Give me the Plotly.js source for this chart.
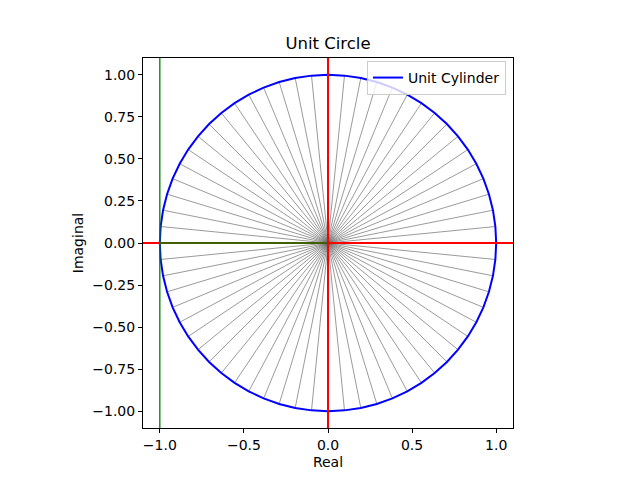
<!DOCTYPE html>
<html>
<head>
<meta charset="utf-8">
<script src="https://cdn.plot.ly/plotly-3.0.1.min.js"></script>
<style>
  html, body { margin: 0; padding: 0; background: #fff; }
  #plot { width: 640px; height: 480px; }
</style>
</head>
<body>
<div id="plot"></div>
<script>
// angles (degrees) of the points on the circle, one spoke per point
var angleDeg = [
  0, 5.625, 11.25, 16.875, 22.5, 28.125, 33.75, 39.375,
  45, 50.625, 56.25, 61.875, 67.5, 73.125, 78.75, 84.375,
  90, 95.625, 101.25, 106.875, 112.5, 118.125, 123.75, 129.375,
  135, 140.625, 146.25, 151.875, 157.5, 163.125, 168.75, 174.375,
  180, 185.625, 191.25, 196.875, 202.5, 208.125, 213.75, 219.375,
  225, 230.625, 236.25, 241.875, 247.5, 253.125, 258.75, 264.375,
  270, 275.625, 281.25, 286.875, 292.5, 298.125, 303.75, 309.375,
  315, 320.625, 326.25, 331.875, 337.5, 343.125, 348.75, 354.375, 360
]
var radius = 1

// reference lines
var redVLineX = [0]
var redHLineY = [0]
var greenVLineX = [-1]
var greenSegX = [-1, 0]
var greenSegY = [0, 0]

// ticks
var xTickVals = [-1, -0.5, 0, 0.5, 1]
var xTickText = ['\u22121.0', '\u22120.5', '0.0', '0.5', '1.0']
var yTickVals = [-1, -0.75, -0.5, -0.25, 0, 0.25, 0.5, 0.75, 1]
var yTickText = ['\u22121.00', '\u22120.75', '\u22120.50', '\u22120.25', '0.00', '0.25', '0.50', '0.75', '1.00']

var circleX = []
var circleY = []
for (var i = 0; i < angleDeg.length; i++) {
  var a = angleDeg[i] * Math.PI / 180
  circleX.push(radius * Math.cos(a))
  circleY.push(radius * Math.sin(a))
}

// spokes from the origin to each point, joined with gaps
var spokeX = []
var spokeY = []
for (var k = 0; k < circleX.length - 1; k++) {
  spokeX.push(0, circleX[k], null)
  spokeY.push(0, circleY[k], null)
}

var font = 'DejaVu Sans, sans-serif'

var spokes = {
  x: spokeX, y: spokeY, mode: 'lines', type: 'scatter',
  line: {color: '#6e6e6e', width: 0.7},
  showlegend: false, hoverinfo: 'skip'
}

var circle = {
  x: circleX, y: circleY, mode: 'lines', type: 'scatter',
  name: 'Unit Cylinder',
  line: {color: 'blue', width: 2}
}

var shapes = []
redVLineX.forEach(function (v) {
  shapes.push({type: 'line', xref: 'x', yref: 'paper', x0: v, x1: v, y0: 0, y1: 1,
    line: {color: 'red', width: 2}, layer: 'above'})
})
redHLineY.forEach(function (v) {
  shapes.push({type: 'line', xref: 'paper', yref: 'y', x0: 0, x1: 1, y0: v, y1: v,
    line: {color: 'red', width: 2}, layer: 'above'})
})
greenVLineX.forEach(function (v) {
  shapes.push({type: 'line', xref: 'x', yref: 'paper', x0: v, x1: v, y0: 0, y1: 1,
    line: {color: 'green', width: 1.3}, layer: 'above'})
})
shapes.push({type: 'line', xref: 'x', yref: 'y', x0: greenSegX[0], x1: greenSegX[1],
  y0: greenSegY[0], y1: greenSegY[1], line: {color: 'green', width: 1.3}, layer: 'above'})

var axisCommon = {
  showgrid: false, zeroline: false,
  showline: true, mirror: true, linecolor: 'black', linewidth: 1,
  ticks: 'outside', ticklen: 4, tickwidth: 1, tickcolor: 'black',
  tickfont: {family: font, size: 14, color: 'black'}
}

var layout = {
  width: 640, height: 480,
  margin: {l: 143, r: 127, t: 58, b: 52},
  paper_bgcolor: 'white', plot_bgcolor: 'white',
  font: {family: font, color: 'black'},
  title: {
    text: 'Unit Circle', font: {family: font, size: 16.5, color: 'black'},
    x: 0.5, xref: 'paper', y: 1, yref: 'paper', yanchor: 'bottom', pad: {b: 9}
  },
  xaxis: Object.assign({}, axisCommon, {
    range: [-1.1, 1.1], tickvals: xTickVals, ticktext: xTickText,
    title: {text: 'Real', font: {family: font, size: 14}, standoff: 5}
  }),
  yaxis: Object.assign({}, axisCommon, {
    range: [-1.1, 1.1], tickvals: yTickVals, ticktext: yTickText,
    title: {text: 'Imaginal', font: {family: font, size: 14}, standoff: 5}
  }),
  legend: {
    x: 0.981, y: 0.992, xanchor: 'right', yanchor: 'top',
    bgcolor: 'rgba(255,255,255,0.8)', bordercolor: '#cccccc', borderwidth: 1,
    tracegroupgap: 0, itemwidth: 30,
    font: {family: font, size: 14, color: 'black'}
  },
  shapes: shapes
}

Plotly.newPlot('plot', [spokes, circle], layout, {staticPlot: true})
</script>
</body>
</html>
